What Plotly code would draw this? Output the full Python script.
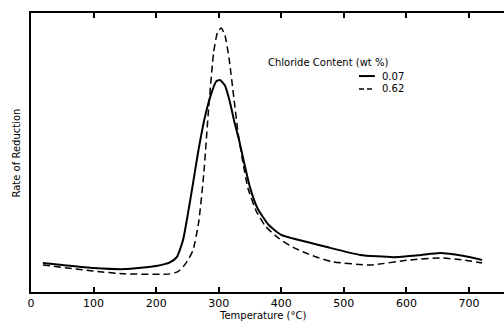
import plotly.graph_objects as go

# Temperature (°C) sample points and rate of reduction (arbitrary units)
temp_solid = [19, 50, 100, 150, 200, 222, 233, 243, 250, 259, 267, 278, 288, 296, 302, 310, 318, 325, 333, 341, 350, 362, 380, 400, 440, 473, 526, 579, 620, 654, 690, 721]
rate_solid = [10.4, 9.7, 8.6, 8.2, 9.3, 10.6, 12.5, 18.6, 27.0, 39.0, 50.0, 62.7, 71.0, 75.5, 76.0, 74.0, 68.0, 61.0, 54.0, 46.0, 37.5, 30.0, 24.0, 20.5, 18.0, 16.1, 13.3, 12.5, 13.2, 14.0, 13.0, 11.5]

temp_dash = [19, 100, 150, 222, 235, 243, 251, 259, 268, 276, 284, 292, 298, 304, 310, 317, 324, 331, 339, 347, 360, 375, 395, 419, 450, 483, 542, 606, 654, 690, 721]
rate_dash = [9.7, 7.5, 6.5, 6.5, 7.3, 9.0, 11.5, 15.0, 25.0, 42.0, 66.0, 86.0, 93.0, 94.6, 92.0, 83.0, 70.0, 57.0, 46.0, 37.0, 29.0, 23.5, 19.4, 16.0, 13.0, 10.8, 9.7, 11.5, 12.2, 11.5, 10.4]

series_names = ["0.07", "0.62"]
legend_title = "Chloride Content (wt %)"
x_ticks = [0, 100, 200, 300, 400, 500, 600, 700]
x_range = [0, 756]

FONT = "DejaVu Sans"

fig = go.Figure()
fig.add_trace(go.Scatter(x=temp_solid, y=rate_solid, mode="lines", name=series_names[0],
                         line=dict(color="black", width=2, shape="spline", smoothing=0.5)))
fig.add_trace(go.Scatter(x=temp_dash, y=rate_dash, mode="lines", name=series_names[1],
                         line=dict(color="black", width=1.5, dash="7px,4px", shape="spline", smoothing=0.5)))
# empty trace so that the top (mirror) axis with its inward ticks is drawn
fig.add_trace(go.Scatter(x=[], y=[], xaxis="x2", yaxis="y", hoverinfo="skip", showlegend=False))

# manual legend (compact spacing like the reference)
leg_x0, leg_x1, leg_tx = 0.6934, 0.727, 0.738
leg_y = [0.774, 0.7276]
shapes = []
annotations = [dict(text=legend_title, xref="paper", yref="paper", x=0.759, y=0.849,
                    showarrow=False, font=dict(size=10, family=FONT))]
for name, yy, dash, w in zip(series_names, leg_y, ["solid", "5px,3px"], [2, 1.5]):
    shapes.append(dict(type="line", xref="paper", yref="paper", x0=leg_x0, x1=leg_x1, y0=yy, y1=yy,
                       line=dict(color="black", width=w, dash=dash)))
    annotations.append(dict(text=name, xref="paper", yref="paper", x=leg_tx, y=yy, xanchor="left",
                            yanchor="middle", showarrow=False, font=dict(size=10, family=FONT)))

# axis titles
annotations.append(dict(text="Temperature (°C)", xref="paper", yref="paper", x=0.49, y=-0.086,
                        xanchor="center", yanchor="middle", showarrow=False, font=dict(size=10, family=FONT)))
annotations.append(dict(text="Rate of Reduction", xref="paper", yref="paper", x=-0.0296, y=0.5,
                        xanchor="center", yanchor="middle", textangle=-90, showarrow=False,
                        font=dict(size=10, family=FONT)))

fig.update_layout(
    width=504, height=324,
    margin=dict(l=31, r=0, t=13, b=32, autoexpand=False),
    paper_bgcolor="white", plot_bgcolor="white",
    font=dict(family=FONT, color="black", size=10),
    showlegend=False,
    hovermode=False,
    shapes=shapes,
    annotations=annotations,
    xaxis=dict(range=x_range, tickvals=x_ticks, ticks="inside", ticklen=5, tickwidth=1.5,
               tickcolor="black", showline=True, linecolor="black", linewidth=2,
               mirror=True, showgrid=False, zeroline=False, automargin=False,
               tickfont=dict(size=11, family=FONT)),
    xaxis2=dict(overlaying="x", side="top", anchor="y", range=x_range, tickvals=x_ticks, ticks="inside",
                ticklen=5, tickwidth=1.5, tickcolor="black", showticklabels=False,
                showline=True, linecolor="black", linewidth=2, showgrid=False, zeroline=False,
                automargin=False),
    yaxis=dict(range=[0, 100], showticklabels=False, ticks="", showline=True, linecolor="black",
               linewidth=2, mirror=False, showgrid=False, zeroline=False, automargin=False),
)

fig.write_html("out.html", config={"displayModeBar": False},
               post_script="document.body.style.margin='0';document.body.style.padding='0';")
